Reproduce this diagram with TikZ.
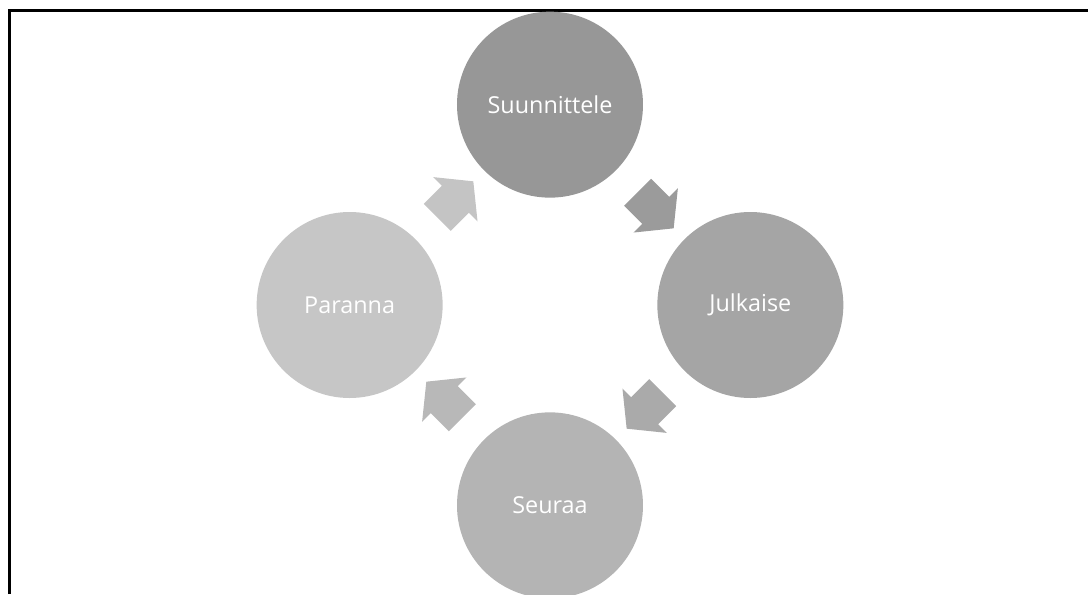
\documentclass[tikz,border=0pt]{standalone}
\usepackage{fontspec}
\setmainfont{Open Sans}
\usepackage{xcolor}
\usetikzlibrary{shapes.arrows, positioning, calc}

\definecolor{planfill}{HTML}{979797}
\definecolor{pubfill}{HTML}{A5A5A5}
\definecolor{followfill}{HTML}{B4B4B4}
\definecolor{improvefill}{HTML}{C6C6C6}
\definecolor{planarrow}{HTML}{9B9B9B}
\definecolor{pubarrow}{HTML}{AAAAAA}
\definecolor{followarrow}{HTML}{B8B8B8}
\definecolor{improvearrow}{HTML}{C4C4C4}

\begin{document}
\begin{tikzpicture}[
    stage/.style={circle, minimum size=3.72cm, inner sep=0pt, text=white, font=\fontsize{13.3}{15}\selectfont},
    cyclearrow/.style={single arrow, inner sep=0pt, text height=0.75cm, text depth=0pt, minimum height=1.02cm,
        single arrow head extend=0.245cm, single arrow tip angle=102}
]
\useasboundingbox (-11.0,-5.78) rectangle (10.76,6.10);
% Frame
\draw[line width=1.2pt] (-10.81,-5.78) -- (-10.81,5.89) -- (10.76,5.89);

% Stages
\coordinate (hub) at (0,0);
\node[stage, fill=planfill, above=2.14cm of hub] (plan) {Suunnittele};
\node[stage, fill=pubfill, right=2.14cm of hub] (pub) {Julkaise};
\node[stage, fill=followfill, below=2.14cm of hub] (follow) {Seuraa};
\node[stage, fill=improvefill, left=2.14cm of hub] (improve) {Paranna};

% Arrows
\node[cyclearrow, fill=planarrow, rotate=-45] (a1) at ($(plan)!0.5!(pub)$) {};
\node[cyclearrow, fill=pubarrow, rotate=-135] (a2) at ($(pub)!0.5!(follow)$) {};
\node[cyclearrow, fill=followarrow, rotate=135] (a3) at ($(follow)!0.5!(improve)$) {};
\node[cyclearrow, fill=improvearrow, rotate=45] (a4) at ($(improve)!0.5!(plan)$) {};

\end{tikzpicture}
\end{document}
